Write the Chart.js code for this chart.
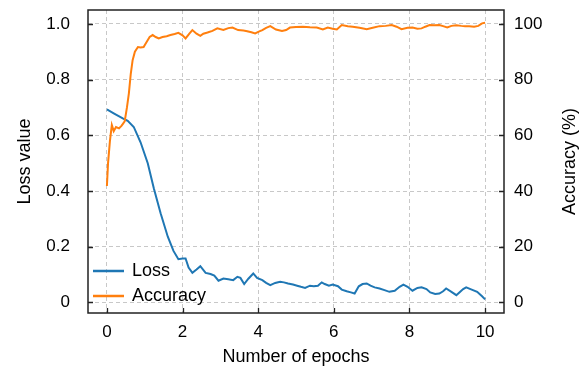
<!DOCTYPE html>
<html>
<head>
<meta charset="utf-8">
<script src="https://cdn.jsdelivr.net/npm/chart.js@4.4.1/dist/chart.umd.min.js"></script>
<style>
  html, body { margin: 0; padding: 0; background: #fff; }
</style>
</head>
<body>
<canvas id="lossChart" width="587" height="371"></canvas>
<script>
// values
var lossEpochs = [0.00, 0.18, 0.42, 0.55, 0.71, 0.89, 1.08, 1.24, 1.42, 1.61, 1.76, 1.89, 2.00, 2.08, 2.16, 2.26, 2.37, 2.47,
  2.61, 2.74, 2.84, 2.95, 3.08, 3.21, 3.34, 3.45, 3.53, 3.63, 3.74, 3.87, 3.97, 4.11, 4.21, 4.32, 4.45, 4.58, 4.68, 4.79,
  4.92, 5.03, 5.13, 5.24, 5.37, 5.47, 5.58, 5.68, 5.76, 5.87, 5.97, 6.11, 6.21, 6.34, 6.45, 6.55, 6.66, 6.76, 6.87, 6.97,
  7.08, 7.21, 7.34, 7.47, 7.61, 7.74, 7.84, 7.95, 8.08, 8.21, 8.32, 8.45, 8.55, 8.68, 8.79, 8.89, 8.97, 9.11, 9.24, 9.32,
  9.42, 9.50, 9.63, 9.79, 9.92, 10.00];
var lossValues = [0.693, 0.679, 0.661, 0.652, 0.630, 0.575, 0.500, 0.410, 0.320, 0.236, 0.185, 0.155, 0.158, 0.158, 0.125,
  0.106, 0.118, 0.130, 0.106, 0.102, 0.096, 0.078, 0.086, 0.083, 0.080, 0.092, 0.088, 0.066, 0.085, 0.104, 0.088, 0.080,
  0.070, 0.062, 0.070, 0.074, 0.072, 0.068, 0.064, 0.060, 0.056, 0.052, 0.060, 0.058, 0.060, 0.072, 0.066, 0.060, 0.064,
  0.058, 0.046, 0.040, 0.036, 0.032, 0.058, 0.066, 0.068, 0.060, 0.054, 0.050, 0.044, 0.038, 0.042, 0.056, 0.064, 0.056,
  0.042, 0.052, 0.054, 0.048, 0.036, 0.030, 0.032, 0.040, 0.050, 0.038, 0.026, 0.036, 0.048, 0.054, 0.047, 0.038, 0.022,
  0.011];

var accEpochs = [0.00, 0.03, 0.08, 0.13, 0.18, 0.24, 0.32, 0.39, 0.47, 0.53, 0.58, 0.63, 0.68, 0.74, 0.82, 0.89, 0.97, 1.05,
  1.13, 1.21, 1.29, 1.37, 1.47, 1.58, 1.68, 1.79, 1.89, 2.00, 2.08, 2.18, 2.26, 2.37, 2.47, 2.55, 2.66, 2.79, 2.92, 3.08,
  3.21, 3.32, 3.47, 3.61, 3.71, 3.82, 3.92, 4.03, 4.11, 4.21, 4.32, 4.47, 4.63, 4.74, 4.84, 5.00, 5.18, 5.37, 5.55, 5.71,
  5.84, 5.97, 6.08, 6.21, 6.37, 6.50, 6.68, 6.87, 7.03, 7.21, 7.37, 7.53, 7.66, 7.79, 7.95, 8.08, 8.21, 8.32, 8.42, 8.53,
  8.66, 8.79, 8.89, 9.00, 9.11, 9.24, 9.37, 9.47, 9.58, 9.71, 9.82, 9.92, 10.00];
var accValues = [41.8, 50.0, 58.0, 63.7, 61.5, 63.0, 62.5, 63.5, 65.0, 70.0, 75.0, 82.0, 87.0, 90.0, 91.7, 91.5, 91.7, 93.5,
  95.3, 96.0, 95.3, 94.8, 95.3, 95.6, 96.0, 96.4, 96.8, 95.9, 94.8, 96.5, 97.8, 96.5, 95.7, 96.5, 96.9, 97.5, 98.4, 97.8,
  98.5, 98.7, 97.8, 97.6, 97.4, 97.0, 96.6, 97.3, 97.8, 98.6, 99.2, 98.0, 97.5, 97.8, 98.7, 98.9, 99.0, 98.8, 98.7, 98.0,
  98.7, 98.3, 98.0, 99.6, 99.2, 99.0, 98.6, 98.1, 98.6, 99.2, 99.3, 99.6, 99.0, 98.1, 98.6, 98.7, 98.3, 98.4, 99.0, 99.6,
  99.5, 99.6, 99.2, 98.7, 99.3, 99.5, 99.3, 99.2, 99.2, 99.0, 99.3, 100.2, 100.4];

var xTicks = [0, 2, 4, 6, 8, 10];
var lossTicks = [0, 0.2, 0.4, 0.6, 0.8, 1.0];
var lossTickLabels = ["0", "0.2", "0.4", "0.6", "0.8", "1.0"];
var accTicks = [0, 20, 40, 60, 80, 100];

var blue = "#1f77b4";
var orange = "#ff7f0e";
var font = "'Liberation Sans', Arial, sans-serif";

function toPoints(xs, ys) {
  return xs.map(function (x, i) { return { x: x, y: ys[i] }; });
}

// no extra room for the outer tick labels, the plot box is fixed
function noPadding(s) {
  s.paddingTop = 0; s.paddingBottom = 0; s.paddingLeft = 0; s.paddingRight = 0;
}

// frame, inward tick marks, axis titles and legend
var decorPlugin = {
  id: "decor",
  afterDraw: function (chart) {
    var ctx = chart.ctx;
    var a = chart.chartArea;
    var sx = chart.scales.x, sy = chart.scales.y, sa = chart.scales.acc;
    ctx.save();
    ctx.strokeStyle = "#222";
    ctx.lineWidth = 1.3;
    ctx.beginPath();
    xTicks.forEach(function (v) {
      var px = Math.round(sx.getPixelForValue(v)) + 0.5;
      ctx.moveTo(px, a.bottom); ctx.lineTo(px, a.bottom - 5);
    });
    lossTicks.forEach(function (v) {
      var py = Math.round(sy.getPixelForValue(v)) + 0.5;
      ctx.moveTo(a.left, py); ctx.lineTo(a.left + 5, py);
    });
    accTicks.forEach(function (v) {
      var py = Math.round(sa.getPixelForValue(v)) + 0.5;
      ctx.moveTo(a.right, py); ctx.lineTo(a.right - 5, py);
    });
    ctx.stroke();
    ctx.lineWidth = 1.5;
    ctx.strokeRect(a.left, a.top, a.right - a.left, a.bottom - a.top);

    // axis titles
    ctx.fillStyle = "#000";
    ctx.font = "18px " + font;
    ctx.textAlign = "center";
    ctx.textBaseline = "middle";
    var midY = (a.top + a.bottom) / 2;
    ctx.fillText("Number of epochs", (a.left + a.right) / 2, 357);
    ctx.save();
    ctx.translate(25, midY); ctx.rotate(-Math.PI / 2);
    ctx.fillText("Loss value", 0, 0);
    ctx.restore();
    ctx.save();
    ctx.translate(570, midY); ctx.rotate(-Math.PI / 2);
    ctx.fillText("Accuracy (%)", 0, 0);
    ctx.restore();

    // legend
    var items = [["Loss", blue, 271], ["Accuracy", orange, 296]];
    ctx.textAlign = "left";
    ctx.lineWidth = 2.5;
    items.forEach(function (it) {
      ctx.strokeStyle = it[1];
      ctx.beginPath();
      ctx.moveTo(93, it[2]); ctx.lineTo(124, it[2]);
      ctx.stroke();
      ctx.fillText(it[0], 132, it[2]);
    });
    ctx.restore();
  }
};

var ctx = document.getElementById("lossChart").getContext("2d");
new Chart(ctx, {
  type: "line",
  data: {
    datasets: [{
      label: "Loss",
      data: toPoints(lossEpochs, lossValues),
      borderColor: blue,
      borderWidth: 2,
      pointRadius: 0,
      tension: 0,
      yAxisID: "y",
      order: 2
    }, {
      label: "Accuracy",
      data: toPoints(accEpochs, accValues),
      borderColor: orange,
      borderWidth: 2,
      pointRadius: 0,
      tension: 0,
      yAxisID: "acc",
      order: 1
    }]
  },
  options: {
    responsive: false,
    animation: false,
    devicePixelRatio: 1,
    layout: { padding: { top: 10, left: 0, right: 0, bottom: 0 } },
    plugins: { legend: { display: false }, tooltip: { enabled: false } },
    scales: {
      x: {
        type: "linear",
        min: -0.5,
        max: 10.5,
        afterBuildTicks: function (s) { s.ticks = xTicks.map(function (v) { return { value: v }; }); },
        afterFit: function (s) { s.height = 58; noPadding(s); },
        grid: { color: "#c8c8c8", lineWidth: 1, drawTicks: false },
        border: { display: false, dash: [4, 3] },
        ticks: { color: "#000", padding: 9, font: { family: font, size: 17 }, maxRotation: 0,
          callback: function (v) { return String(v); } }
      },
      y: {
        position: "left",
        min: -0.038,
        max: 1.05,
        afterBuildTicks: function (s) { s.ticks = lossTicks.map(function (v) { return { value: v }; }); },
        afterFit: function (s) { s.width = 88; noPadding(s); },
        grid: { color: "#c8c8c8", lineWidth: 1, drawTicks: false },
        border: { display: false, dash: [4, 3] },
        ticks: { color: "#000", padding: 18, font: { family: font, size: 17 },
          callback: function (v, i) { return lossTickLabels[i]; } }
      },
      acc: {
        position: "right",
        min: -3.8,
        max: 105,
        afterBuildTicks: function (s) { s.ticks = accTicks.map(function (v) { return { value: v }; }); },
        afterFit: function (s) { s.width = 83; noPadding(s); },
        grid: { display: false, drawTicks: false },
        border: { display: false },
        ticks: { color: "#000", padding: 10, font: { family: font, size: 17 },
          callback: function (v) { return String(v); } }
      }
    }
  },
  plugins: [decorPlugin]
});
</script>
</body>
</html>
